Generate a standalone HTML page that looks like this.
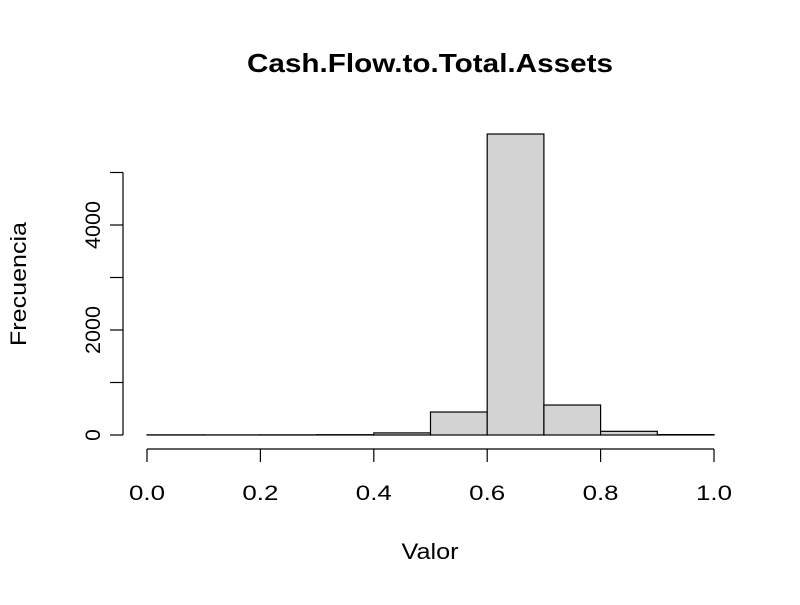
<!DOCTYPE html>
<html><head><meta charset="utf-8"><style>body{margin:0;background:#fff}svg text{font-family:"Liberation Sans",sans-serif}</style></head>
<body>
<svg id="chart" width="800" height="600" xmlns="http://www.w3.org/2000/svg">
<text x="430" y="72" text-anchor="middle" font-size="26" font-weight="bold" textLength="366" lengthAdjust="spacingAndGlyphs">Cash.Flow.to.Total.Assets</text>
<text x="430" y="559" text-anchor="middle" font-size="22" textLength="57" lengthAdjust="spacingAndGlyphs">Valor</text>
<text x="0" y="0" transform="translate(26,284) rotate(-90)" text-anchor="middle" font-size="22" textLength="124" lengthAdjust="spacingAndGlyphs">Frecuencia</text>
<g id="bars"></g><g id="xaxis"></g><g id="yaxis"></g>
</svg>
<script>
const binEdges=[0,0.1,0.2,0.3,0.4,0.5,0.6,0.7,0.8,0.9,1.0];
const counts=[3,2,3,6,40,438,5733,571,70,8];
const xTicks=[0,0.2,0.4,0.6,0.8,1.0];
const xTickLabels=["0.0","0.2","0.4","0.6","0.8","1.0"];
const yTicks=[0,1000,2000,3000,4000,5000];
const yTickLabels=["0","","2000","","4000",""];
const NS="http://www.w3.org/2000/svg";
const x=v=>147+v*567, y=v=>435-v*0.0525;
function mk(t,a,p){const e=document.createElementNS(NS,t);for(const k in a)e.setAttribute(k,a[k]);p.appendChild(e);return e;}
const bars=document.getElementById('bars');
counts.forEach((c,i)=>{const r=mk('rect',{x:x(binEdges[i]),y:y(c),width:x(binEdges[i+1])-x(binEdges[i]),height:y(0)-y(c),fill:'#d3d3d3',stroke:'#000','stroke-width':1.2},bars);

});
const xa=document.getElementById('xaxis');
const xl=mk('line',{x1:x(0),x2:x(1),y1:449,y2:449,stroke:'#000','stroke-width':1.2},xa);


xTicks.forEach((v,i)=>{mk('line',{x1:x(v),x2:x(v),y1:449,y2:462,stroke:'#000','stroke-width':1.2},xa);
const t=mk('text',{x:x(v),y:500,'text-anchor':'middle','font-size':21,textLength:36,lengthAdjust:'spacingAndGlyphs'},xa);t.textContent=xTickLabels[i];

});
const ya=document.getElementById('yaxis');
const yl=mk('line',{x1:123,x2:123,y1:y(0),y2:y(5000),stroke:'#000','stroke-width':1.2},ya);


yTicks.forEach((v,i)=>{mk('line',{x1:110,x2:123,y1:y(v),y2:y(v),stroke:'#000','stroke-width':1.2},ya);
if(yTickLabels[i]){const t=mk('text',{x:0,y:0,transform:`translate(100,${y(v)}) rotate(-90)`,'text-anchor':'middle','font-size':21},ya);t.textContent=yTickLabels[i];
if(yTickLabels[i].length>1){t.setAttribute('textLength',yTickLabels[i].length*12);t.setAttribute('lengthAdjust','spacingAndGlyphs');}

}});
</script>
</body></html>
